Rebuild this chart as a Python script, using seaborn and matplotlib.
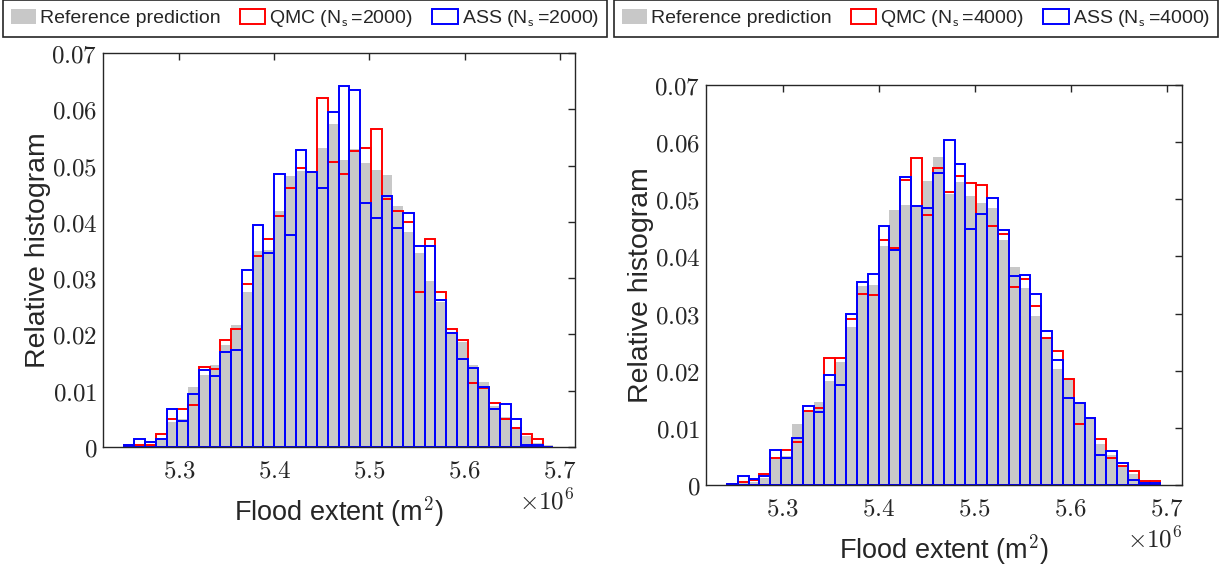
import numpy as np
import pandas as pd
import seaborn as sns
import matplotlib.pyplot as plt
from matplotlib.ticker import FuncFormatter, MultipleLocator

# bins shared by all histograms (flood extent in units of 1e6 m^2)
bin_start = 5.2418
bin_width = 0.01129
n_bins = 40

# relative histogram values
ref_pred = [0.0003, 0.0004, 0.0006, 0.0012, 0.0045, 0.0050, 0.0106, 0.0128, 0.0146, 0.0182,
            0.0216, 0.0276, 0.0349, 0.0350, 0.0419, 0.0482, 0.0490, 0.0487, 0.0532, 0.0574,
            0.0510, 0.0530, 0.0505, 0.0493, 0.0484, 0.0428, 0.0382, 0.0345, 0.0295, 0.0258,
            0.0203, 0.0187, 0.0145, 0.0116, 0.0072, 0.0053, 0.0035, 0.0019, 0.0007, 0.0004]

qmc_2000 = [0.0004, 0.0004, 0.0004, 0.0024, 0.0049, 0.0068, 0.0074, 0.0143, 0.0139, 0.0190,
            0.0209, 0.0290, 0.0340, 0.0370, 0.0410, 0.0460, 0.0495, 0.0488, 0.0620, 0.0506,
            0.0485, 0.0526, 0.0531, 0.0565, 0.0441, 0.0420, 0.0400, 0.0276, 0.0370, 0.0275,
            0.0209, 0.0190, 0.0114, 0.0104, 0.0078, 0.0049, 0.0034, 0.0023, 0.0014, 0.0]

ass_2000 = [0.0004, 0.0015, 0.0009, 0.0015, 0.0068, 0.0047, 0.0094, 0.0136, 0.0127, 0.0168,
            0.0173, 0.0315, 0.0394, 0.0345, 0.0485, 0.0376, 0.0528, 0.0489, 0.0460, 0.0595,
            0.0641, 0.0635, 0.0433, 0.0406, 0.0446, 0.0389, 0.0415, 0.0358, 0.0358, 0.0261,
            0.0202, 0.0156, 0.0141, 0.0106, 0.0068, 0.0076, 0.0049, 0.0004, 0.0004, 0.0]

qmc_4000 = [0.0002, 0.0005, 0.0008, 0.0019, 0.0048, 0.0061, 0.0076, 0.0130, 0.0135, 0.0223,
            0.0223, 0.0290, 0.0334, 0.0333, 0.0429, 0.0414, 0.0534, 0.0573, 0.0473, 0.0554,
            0.0513, 0.0540, 0.0528, 0.0525, 0.0453, 0.0440, 0.0347, 0.0361, 0.0314, 0.0258,
            0.0235, 0.0185, 0.0106, 0.0117, 0.0080, 0.0048, 0.0033, 0.0025, 0.0007, 0.0007]

ass_4000 = [0.0002, 0.0015, 0.0010, 0.0016, 0.0062, 0.0048, 0.0083, 0.0138, 0.0128, 0.0193,
            0.0175, 0.0299, 0.0355, 0.0369, 0.0454, 0.0411, 0.0539, 0.0488, 0.0484, 0.0546,
            0.0603, 0.0561, 0.0448, 0.0474, 0.0503, 0.0446, 0.0366, 0.0368, 0.0335, 0.0270,
            0.0219, 0.0153, 0.0143, 0.0117, 0.0053, 0.0060, 0.0039, 0.0008, 0.0004, 0.0003]

sample_sizes = [2000, 4000]

edges = bin_start + bin_width * np.arange(n_bins + 1)
centers = (edges[:-1] + edges[1:]) / 2
bin_range = (edges[0], edges[-1])

sns.set_theme(style="white")
plt.rcParams['font.family'] = ['Liberation Sans', 'DejaVu Sans']
plt.rcParams['mathtext.fontset'] = 'cm'
axis_col = '#262626'

fig = plt.figure(figsize=(12.19, 5.68), dpi=100)
ax_left = fig.add_axes([0.0845, 0.2130, 0.3872, 0.6937])
ax_right = fig.add_axes([0.5792, 0.1461, 0.3905, 0.7042])

panels = [(ax_left, qmc_2000, ass_2000, 0.0025), (ax_right, qmc_4000, ass_4000, 0.5037)]

for (ax, qmc, ass, leg_x), ns in zip(panels, sample_sizes):
    df = pd.DataFrame({'extent': centers, 'ref': ref_pred, 'qmc': qmc, 'ass': ass})
    sns.histplot(data=df, x='extent', weights='ref', bins=n_bins, binrange=bin_range, ax=ax,
                 color='#c8c8c8', alpha=1, edgecolor='none', linewidth=0,
                 label='Reference prediction')
    sns.histplot(data=df, x='extent', weights='qmc', bins=n_bins, binrange=bin_range, ax=ax,
                 fill=False, color='#ff0000', linewidth=1.4,
                 label=r'QMC (N$_\mathsf{s}\,$=%d)' % ns)
    sns.histplot(data=df, x='extent', weights='ass', bins=n_bins, binrange=bin_range, ax=ax,
                 fill=False, color='#0000ff', linewidth=1.4,
                 label=r'ASS (N$_\mathsf{s}\,$=%d)' % ns)

    ax.set_xlim(5.22, 5.716)
    ax.set_ylim(0, 0.07)
    ax.xaxis.set_major_locator(MultipleLocator(0.1))
    ax.yaxis.set_major_locator(MultipleLocator(0.01))
    ax.xaxis.set_major_formatter(FuncFormatter(lambda v, p: '$%g$' % round(v, 2)))
    ax.yaxis.set_major_formatter(FuncFormatter(lambda v, p: '$%g$' % round(v, 3)))
    ax.tick_params(direction='in', top=True, right=True, length=5, width=1,
                   colors=axis_col, labelsize=18)
    ax.tick_params(axis='x', pad=8)
    ax.tick_params(axis='y', pad=4)
    for sp in ax.spines.values():
        sp.set_color(axis_col)
        sp.set_linewidth(1)

    ax.set_xlabel('Flood extent (m$^\\mathsf{2}$)', fontsize=19.5, color=axis_col, labelpad=8.5)
    ax.set_ylabel('Relative histogram', fontsize=20.5, color=axis_col, labelpad=0.5)
    ax.annotate(r'$\times10^{6}$', xy=(1, 0), xycoords='axes fraction', xytext=(0, -30),
                textcoords='offset points', ha='right', va='top', fontsize=18, color=axis_col)

    leg = ax.legend(loc='lower left', bbox_to_anchor=(leg_x, 1 - 37 / 568),
                    bbox_transform=fig.transFigure, ncol=3, frameon=True, fancybox=False,
                    edgecolor=axis_col, framealpha=1, fontsize=14, handlelength=1.3,
                    handleheight=0.8, handletextpad=0.2, columnspacing=1.0,
                    borderpad=0.4, borderaxespad=0)
    leg.get_frame().set_linewidth(1.2)

fig.savefig('out.png', dpi=100)
